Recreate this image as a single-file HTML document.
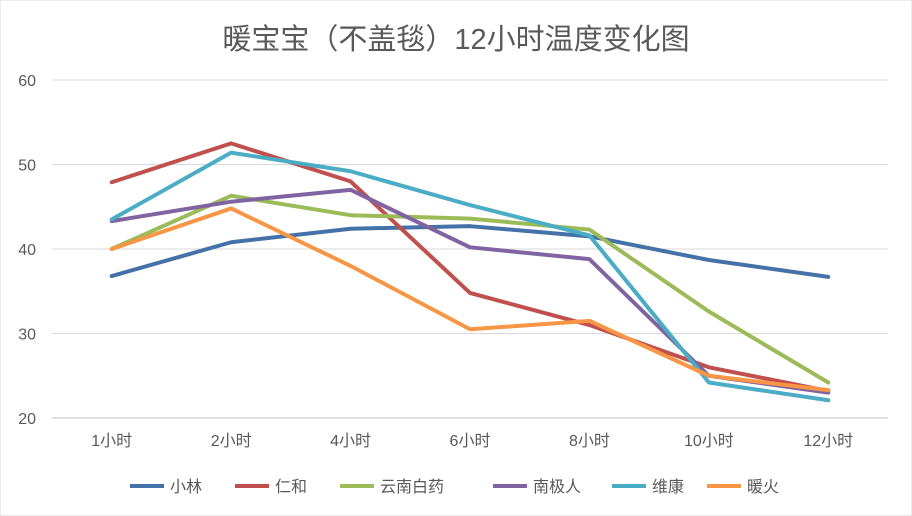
<!DOCTYPE html>
<html><head><meta charset="utf-8"><style>
body{margin:0;background:#fff;}
svg{display:block;font-family:"Liberation Sans","Noto Sans CJK SC",sans-serif;}
</style></head><body>
<svg id="chart" width="912" height="516">
<rect x="0" y="0" width="912" height="516" fill="#fff" stroke="#d9d9d9"/>
<text x="456" y="49" text-anchor="middle" font-size="29" fill="#595959">暖宝宝（不盖毯）12小时温度变化图</text>
<g id="grid"></g><g id="series"></g><g id="legend"></g>
</svg>
<script>
const categories=["1小时","2小时","4小时","6小时","8小时","10小时","12小时"];
const yTicks=[20,30,40,50,60];
const seriesNames=["小林","仁和","云南白药","南极人","维康","暖火"];
const seriesColors=["#4472a8","#c0504d","#9bbb59","#8064a2","#4bacc6","#f79646"];
const xiaolin=[36.8,40.8,42.4,42.7,41.5,38.7,36.7];
const renhe=[47.9,52.5,48.0,34.8,31.0,26.0,23.2];
const yunnan=[40.0,46.3,44.0,43.6,42.3,32.6,24.2];
const nanjiren=[43.3,45.6,47.0,40.2,38.8,25.0,23.0];
const weikang=[43.5,51.4,49.2,45.2,41.6,24.2,22.1];
const nuanhuo=[40.0,44.8,38.0,30.5,31.5,25.0,23.3];
const seriesValues=[xiaolin,renhe,yunnan,nanjiren,weikang,nuanhuo];
const ns="http://www.w3.org/2000/svg";
const L=52,R=888,T=80,B=418,yMin=20,yMax=60;
const band=(R-L)/categories.length;
const x=i=>L+band*(i+0.5);
const y=v=>B-(v-yMin)/(yMax-yMin)*(B-T);
function mk(t,a,p){const e=document.createElementNS(ns,t);for(const k in a)e.setAttribute(k,a[k]);p.appendChild(e);return e;}
const grid=document.getElementById('grid');
yTicks.forEach(v=>{
 const l=mk('line',{x1:L,x2:R,y1:y(v),y2:y(v),stroke:v===yMin?'#bfbfbf':'#d9d9d9','stroke-width':1},grid);
 
 
 const t=mk('text',{x:36,y:y(v)+6,'text-anchor':'end','font-size':16,fill:'#595959'},grid);
 t.textContent=v;
 
 
});
categories.forEach((c,i)=>{
 const t=mk('text',{x:x(i),y:446,'text-anchor':'middle','font-size':16,fill:'#595959'},grid);
 t.textContent=c;
 
 
});
const sg=document.getElementById('series');
seriesValues.forEach((vals,s)=>{
 const p=mk('polyline',{points:vals.map((v,i)=>x(i)+','+y(v)).join(' '),fill:'none',stroke:seriesColors[s],'stroke-width':4,'stroke-linejoin':'round','stroke-linecap':'round'},sg);
 
 
});
const lg=document.getElementById('legend');
const lx=[130,235,340,493,612,707];
seriesNames.forEach((n,s)=>{
 const g=mk('g',{},lg);
 
 
 mk('line',{x1:lx[s],x2:lx[s]+34,y1:486,y2:486,stroke:seriesColors[s],'stroke-width':4},g);
 const t=mk('text',{x:lx[s]+40,y:492,'font-size':16,fill:'#595959'},g);
 t.textContent=n;
});
</script>
</body></html>
